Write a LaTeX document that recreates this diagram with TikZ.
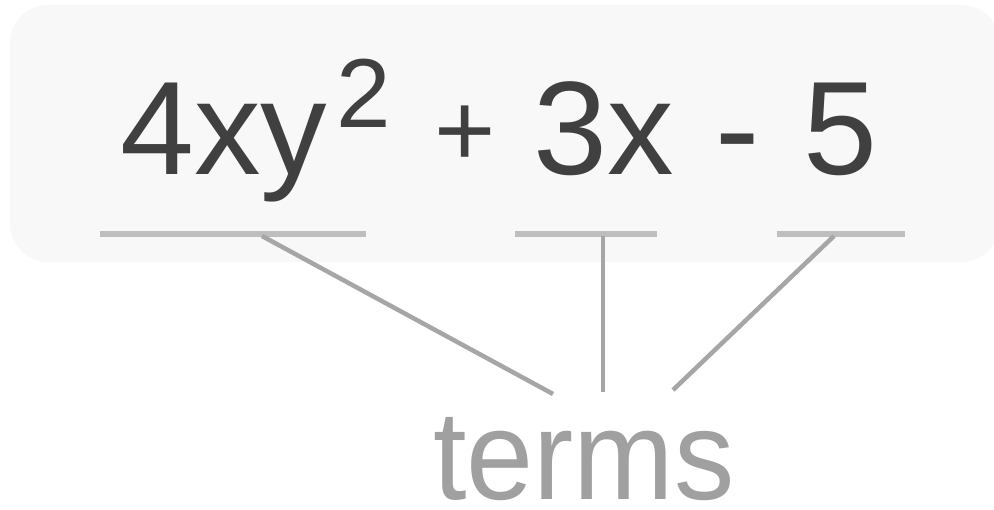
\documentclass[tikz,border=0pt]{standalone}
\usepackage{fontspec}
\setmainfont{Liberation Sans}
\definecolor{boxbg}{HTML}{F8F8F8}
\definecolor{ink}{HTML}{404040}
\definecolor{uline}{HTML}{BEBEBE}
\definecolor{conn}{HTML}{A6A6A6}
\definecolor{lbl}{HTML}{A0A0A0}
\begin{document}
\begin{tikzpicture}[x=1pt,y=-1pt,
  term/.style={inner sep=0pt,anchor=base west,text=ink,font=\fontsize{133}{133}\selectfont},
  underl/.style={draw=uline,line width=6pt},
  connector/.style={draw=conn,line width=4.5pt}]
\useasboundingbox (0,0) rectangle (994,510);
\fill[boxbg,rounded corners=38pt] (10,5) rectangle (1000,262);
% expression
\node[term] (t1) at (120,175) {4xy};
\node[term,font=\fontsize{98}{98}\selectfont] (sq) at (336,128) {2};
\node[inner sep=0pt,text=ink,font=\fontsize{105}{105}\selectfont] (plus) at (465,136) {+};
\node[term] (t2) at (533,175) {3x};
\node[inner sep=0pt,anchor=base,text=ink,font=\fontsize{133}{133}\selectfont] (minus) at (738,175) {-};
\node[term] (t3) at (803,175) {5};
% underlines
\coordinate (a1) at (100,234); \coordinate (a2) at (366,234);
\coordinate (b1) at (515,234); \coordinate (b2) at (657,234);
\coordinate (c1) at (777,234); \coordinate (c2) at (905,234);
\path[underl] (a1) -- (a2);
\path[underl] (b1) -- (b2);
\path[underl] (c1) -- (c2);
% label
\node[inner sep=0pt,anchor=base,text=lbl,font=\fontsize{127}{127}\selectfont] (terms) at (584,500) {\scalebox{0.95}[1]{terms}};
\coordinate (e1) at (553,394);
\coordinate (e2) at (603,392);
\coordinate (e3) at (673,390);
\coordinate (s1) at (262,236);
\coordinate (s2) at (603,236);
\coordinate (s3) at (834,236);
\path[connector] (s1) -- (e1);
\path[connector] (s2) -- (e2);
\path[connector] (s3) -- (e3);
\end{tikzpicture}
\end{document}
